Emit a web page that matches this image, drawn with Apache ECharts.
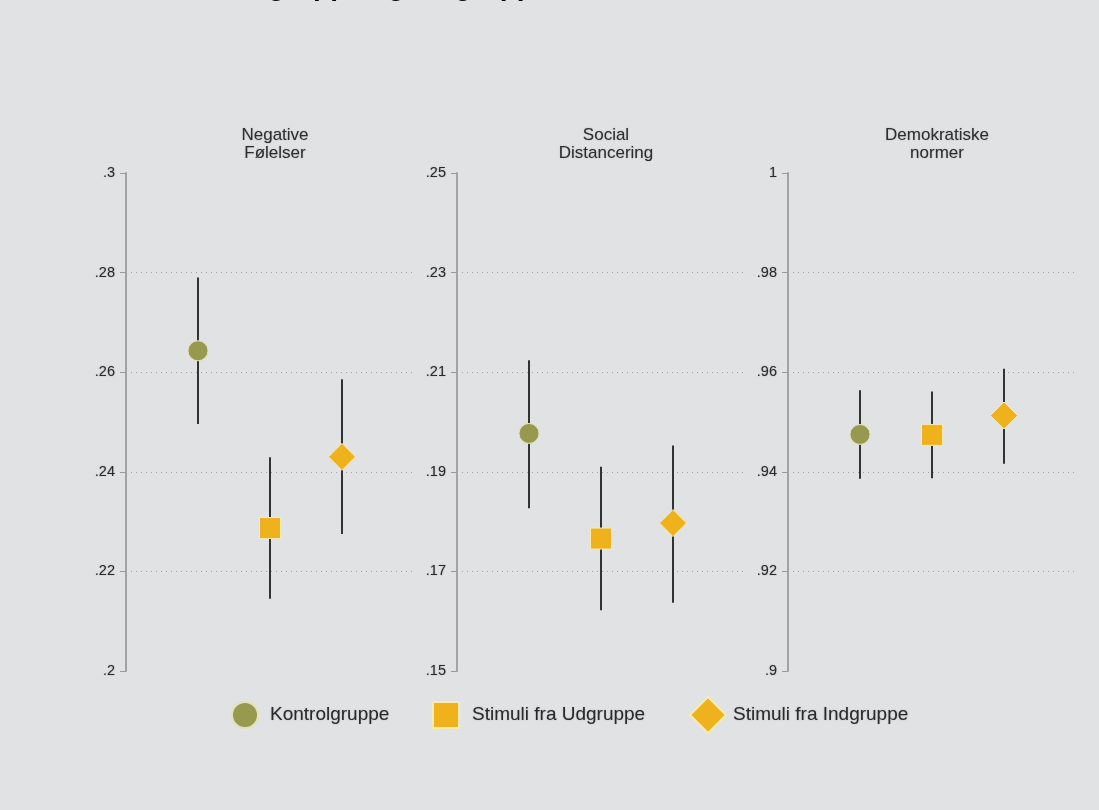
<!DOCTYPE html>
<html><head><meta charset="utf-8">
<script src="https://cdn.jsdelivr.net/npm/echarts@6/dist/echarts.min.js"></script>
<style>html,body{margin:0;padding:0;background:#e1e2e4}#c{width:1099px;height:810px}</style>
</head><body><div id="c"></div>
<script>
// ---- data ----
const groups = ['Kontrolgruppe', 'Stimuli fra Udgruppe', 'Stimuli fra Indgruppe'];
const panelTitles = ['Negative\nFølelser', 'Social\nDistancering', 'Demokratiske\nnormer'];
const xPositions = [1, 2, 3];
const negMean = [0.2643, 0.2287, 0.2430];
const negLo   = [0.2496, 0.2145, 0.2275];
const negHi   = [0.2790, 0.2429, 0.2586];
const socMean = [0.1977, 0.1766, 0.1797];
const socLo   = [0.1827, 0.1622, 0.1637];
const socHi   = [0.2124, 0.1910, 0.1953];
const demMean = [0.9475, 0.9474, 0.9513];
const demLo   = [0.9386, 0.9387, 0.9416];
const demHi   = [0.9564, 0.9561, 0.9607];
const yMin = [0.2, 0.15, 0.9];
const yMax = [0.3, 0.25, 1.0];
const yInterval = 0.02;
const titleText = 'Stimuli fra Udgruppe og Indgruppe';

// ---- styling ----
const means = [negMean, socMean, demMean];
const los = [negLo, socLo, demLo];
const his = [negHi, socHi, demHi];
const gridLefts = [126, 457, 788];
const gridTop = 173, gridW = 288, gridH = 498;
const olive = '#979a4e', gold = '#efb11c';
const symbols = ['circle', 'rect', 'diamond'];
const symSizes = [20, 21, 27];
const fills = [olive, gold, gold];
const borders = ['#e4e1b8', '#f7ebb4', '#f7ebb4'];
const regular = '"Liberation Sans", Arial, sans-serif';

const fmt = v => String(+(+v).toFixed(2)).replace(/^0\./, '.');

const grids = [], xAxes = [], yAxes = [], series = [], titles = [];
for (let p = 0; p < 3; p++) {
  grids.push({ left: gridLefts[p], top: gridTop, width: gridW, height: gridH });
  xAxes.push({ type: 'value', gridIndex: p, min: 0, max: 4, show: false });
  yAxes.push({
    type: 'value', gridIndex: p, min: yMin[p], max: yMax[p], interval: yInterval,
    axisLine: { show: true, lineStyle: { color: '#a3a3a3', width: 2 } },
    axisTick: { show: true, length: 6, lineStyle: { color: '#9a9a9a', width: 1 } },
    axisLabel: { margin: 11, color: '#2a2a2a', fontSize: 14.5, fontFamily: regular, formatter: fmt,
      textShadowColor: 'rgba(0,0,0,0.3)', textShadowBlur: 1.5 },
    splitLine: { show: true, showMinLine: false, showMaxLine: false,
      lineStyle: { color: '#a0a0a0', type: [1, 4], width: 1 } }
  });
  titles.push({
    text: panelTitles[p], left: gridLefts[p] + gridW / 2, top: 122, textAlign: 'center',
    textStyle: { fontSize: 17, fontWeight: 'normal', color: '#2e2e2e', lineHeight: 17.5,
      fontFamily: regular, textShadowColor: 'rgba(0,0,0,0.25)', textShadowBlur: 1.5 }
  });
  series.push({
    type: 'custom', xAxisIndex: p, yAxisIndex: p, z: 2, silent: true,
    data: xPositions.map((x, i) => [x, los[p][i], his[p][i]]),
    encode: { x: 0, y: [1, 2] },
    renderItem: (params, api) => {
      const a = api.coord([api.value(0), api.value(1)]);
      const b = api.coord([api.value(0), api.value(2)]);
      return { type: 'line', shape: { x1: a[0], y1: a[1], x2: b[0], y2: b[1] },
        style: { stroke: '#333', lineWidth: 2 } };
    }
  });
  for (let g = 0; g < 3; g++) {
    series.push({
      type: 'scatter', name: groups[g], xAxisIndex: p, yAxisIndex: p, z: 3,
      symbol: symbols[g], symbolSize: symSizes[g],
      itemStyle: { color: fills[g], opacity: 1, borderColor: borders[g], borderWidth: 1 },
      data: [[xPositions[g], means[p][g]]]
    });
  }
}

const legendCfg = [
  { left: 231, size: [26, 26], pad: 7 },
  { left: 432, size: [26, 26], pad: 8 },
  { left: 689, size: [36, 36], pad: 2 }
];
const legends = groups.map((name, g) => ({
  left: legendCfg[g].left, top: 714 - legendCfg[g].size[1] / 2, padding: 0,
  itemWidth: legendCfg[g].size[0], itemHeight: legendCfg[g].size[1],
  data: [{ name: name, icon: symbols[g] }],
  selectedMode: false,
  textStyle: { fontSize: 19, color: '#2a2a2a', fontFamily: regular, padding: [0, 0, 0, legendCfg[g].pad],
    textShadowColor: 'rgba(0,0,0,0.25)', textShadowBlur: 1.5 }
}));

const chart = echarts.init(document.getElementById('c'), null, { renderer: 'canvas' });
chart.setOption({
  backgroundColor: '#e1e2e4',
  animation: false,
  title: titles,
  grid: grids, xAxis: xAxes, yAxis: yAxes,
  legend: legends,
  series: series,
  graphic: [{
    type: 'text', x: 86, y: -12.5, silent: true,
    style: { text: titleText, font: 'bold 28px ' + regular, fill: '#000', verticalAlign: 'middle', align: 'left' }
  }]
});
</script>
</body></html>
